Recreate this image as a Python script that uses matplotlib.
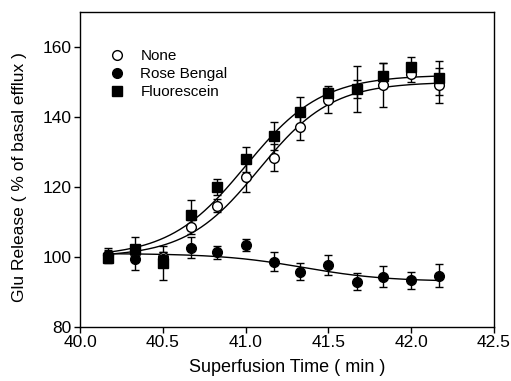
import numpy as np
import matplotlib
matplotlib.use('Agg')
import matplotlib.pyplot as plt

plt.rcParams['font.family'] = ['Liberation Sans', 'DejaVu Sans']

# superfusion time (min)
time = [40.17, 40.33, 40.5, 40.67, 40.83, 41.0, 41.17, 41.33, 41.5, 41.67, 41.83, 42.0, 42.17]

none = [100.5, 101.0, 100.0, 108.6, 114.7, 122.9, 128.4, 137.2, 144.7, 148.0, 149.1, 152.3, 149.0]
none_err = [1.5, 1.5, 1.5, 2.0, 1.9, 4.3, 3.8, 3.8, 3.5, 2.5, 6.2, 2.2, 5.0]

rose = [100.6, 99.3, 99.5, 102.7, 101.3, 103.4, 98.7, 95.8, 97.7, 92.9, 94.4, 93.4, 94.7]
rose_err = [2.0, 3.0, 2.0, 3.0, 1.9, 1.8, 2.6, 2.4, 2.9, 2.4, 2.9, 2.4, 3.3]

fluo = [99.8, 102.3, 98.2, 112.0, 119.9, 127.9, 134.5, 141.3, 146.9, 148.0, 151.8, 154.4, 151.2]
fluo_err = [1.5, 3.3, 4.8, 4.3, 2.3, 3.6, 4.0, 4.3, 2.0, 6.5, 3.5, 2.7, 4.9]

# boltzmann fit parameters (A1, A2, x0, dx)
fit_none = (100.0, 150.0, 41.08, 0.22)
fit_rose = (101.0, 93.0, 41.35, 0.25)
fit_fluo = (100.0, 152.0, 41.0, 0.23)


def boltzmann(x, a1, a2, x0, dx):
    return a2 + (a1 - a2) / (1 + np.exp((x - x0) / dx))


fig = plt.figure(figsize=(5.11, 3.81), dpi=100)
ax = fig.add_axes([0.1566, 0.1417, 0.81, 0.827])

xs = np.linspace(time[0], time[-1], 200)
for p in (fit_none, fit_rose, fit_fluo):
    ax.plot(xs, boltzmann(xs, *p), color='black', lw=1.0, zorder=2)

ebkw = dict(ecolor='black', elinewidth=1.0, capsize=3, capthick=1.0, ls='none', zorder=3)
ax.errorbar(time, none, yerr=none_err, marker='o', ms=7, mfc='white', mec='black',
            mew=1.0, label='None', **ebkw)
ax.errorbar(time, rose, yerr=rose_err, marker='o', ms=7, mfc='black', mec='black',
            label='Rose Bengal', **ebkw)
ax.errorbar(time, fluo, yerr=fluo_err, marker='s', ms=6.5, mfc='black', mec='black',
            label='Fluorescein', **ebkw)

ax.set_xlim(40.0, 42.5)
ax.set_ylim(80, 170)
ax.set_xticks([40.0, 40.5, 41.0, 41.5, 42.0, 42.5])
ax.set_xticklabels(['40.0', '40.5', '41.0', '41.5', '42.0', '42.5'])
ax.set_yticks([80, 100, 120, 140, 160])
ax.tick_params(direction='out', length=4, width=1, labelsize=12.5, top=False, right=False, pad=2)
for s in ax.spines.values():
    s.set_linewidth(1.0)

ax.set_xlabel('Superfusion Time ( min )', fontsize=13, labelpad=6)
ax.set_ylabel('Glu Release ( % of basal efflux )', fontsize=12.5)
ax.yaxis.set_label_coords(-0.128, 0.476)

handles, labels = ax.get_legend_handles_labels()
handles = [h[0] for h in handles]
ax.legend(handles, labels, loc='upper left', bbox_to_anchor=(0.035, 0.925), frameon=False,
          fontsize=11, handletextpad=0.9, labelspacing=0.25, handlelength=1.2)

fig.savefig('out.png', dpi=100)
